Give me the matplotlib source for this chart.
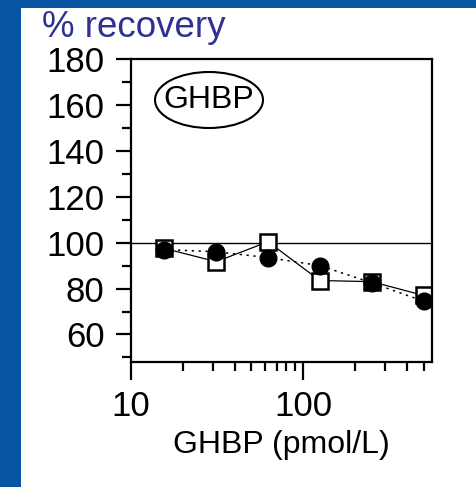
import numpy as np
import matplotlib
matplotlib.use("Agg")
import matplotlib.pyplot as plt
from matplotlib.patches import Rectangle, Ellipse
from matplotlib.ticker import FixedLocator, NullFormatter

plt.rcParams['font.family'] = ['Liberation Sans', 'DejaVu Sans']

# GHBP concentrations (pmol/L), doubling dilutions
ghbp = [15.6, 31.25, 62.5, 125, 250, 500]
# % recovery, two sample series
recovery_squares = [97.5, 91.7, 100.4, 83.5, 83.0, 77.0]
recovery_circles = [97.0, 96.0, 93.5, 90.0, 82.5, 74.5]

x_ticks = [10, 100]
x_tick_labels = ['10', '100']
y_ticks = [60, 80, 100, 120, 140, 160, 180]

fig = plt.figure(figsize=(4.76, 4.87), dpi=100, facecolor='#0755a1')
# white panel on the blue slide background
fig.patches.append(Rectangle((21 / 476, 0), 1, 1 - 8 / 487, transform=fig.transFigure,
                             facecolor='white', edgecolor='none', zorder=-5))

ax = fig.add_axes([131 / 476, 1 - 362 / 487, (432 - 131) / 476, (362 - 59) / 487])
ax.set_facecolor('white')
ax.set_xscale('log')
ax.set_xlim(10, 560)
ax.set_ylim(48, 180)

ax.axhline(100, color='black', lw=1.0, zorder=1)

ax.plot(ghbp, recovery_squares, color='black', lw=0.9, ls='-',
        marker='s', ms=11, mfc='white', mec='black', mew=1.8, zorder=2)
ax.plot(ghbp, recovery_circles, color='black', lw=1.1, ls=(0, (1.5, 3)),
        marker='o', ms=12, mfc='black', mec='black', zorder=3)

ax.set_xticks(x_ticks)
ax.set_xticklabels(x_tick_labels)
ax.xaxis.set_minor_locator(FixedLocator([20, 30, 40, 50, 60, 70, 80, 90, 200, 300, 400, 500]))
ax.xaxis.set_minor_formatter(NullFormatter())
ax.set_yticks(y_ticks)
ax.yaxis.set_minor_locator(FixedLocator(np.arange(50, 180, 10)))

ax.tick_params(axis='both', which='major', direction='out', width=1.6,
               labelsize=25, color='black')
ax.tick_params(axis='y', which='major', length=11, pad=8)
ax.tick_params(axis='x', which='major', length=13, pad=7)
ax.tick_params(axis='both', which='minor', direction='out', width=1.6, length=6.5)

for s in ax.spines.values():
    s.set_linewidth(1.6)

ax.set_xlabel('GHBP (pmol/L)', fontsize=23, labelpad=5)

# sample label in an oval
ax.add_patch(Ellipse((209, 487 - 100), 108, 56, transform=None, fill=False,
                     edgecolor='black', lw=1.5, zorder=4))
fig.text(209 / 476, 1 - 100 / 487, 'GHBP', fontsize=23, ha='center', va='center')

fig.text(42 / 476, 1 - 37 / 487, '% recovery', fontsize=26.5, color='#2e3192',
         ha='left', va='baseline')

fig.savefig('out.png', dpi=100, facecolor=fig.get_facecolor())
